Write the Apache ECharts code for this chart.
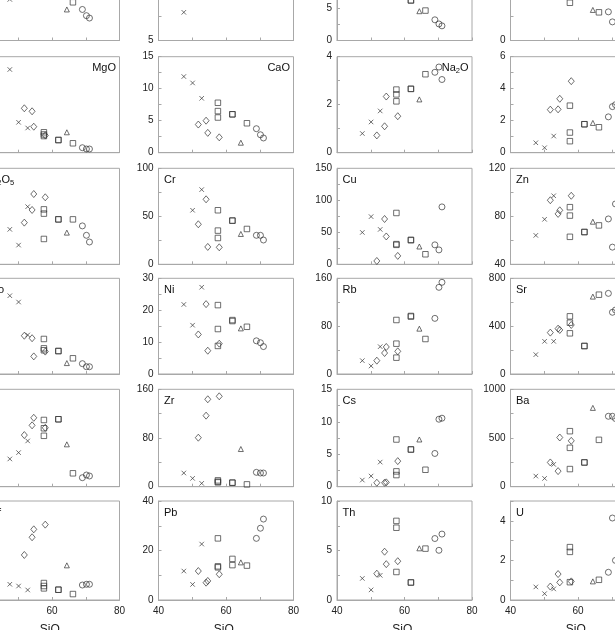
<!DOCTYPE html>
<html lang="en">
<head>
<meta charset="UTF-8">
<script src="https://cdn.jsdelivr.net/npm/echarts@6/dist/echarts.min.js"></script>
<style>
    html, body { margin: 0; padding: 0; width: 615px; height: 630px; overflow: hidden; background: #fff; }
    /* the figure is a crop of a bigger plate, so the chart runs past the window */
    #pic { position: absolute; left: -40px; top: -70px; width: 700px; height: 720px; }
</style>
<title>Harker</title>
</head>
<body>
<div id="pic"></div>
<script type="text/javascript">
    // one entry per sample: SiO2 and rock group (x cross, d diamond, s square, t triangle, o circle)
    var sio2 = [47.5, 50.1, 52.8, 51.8, 54.1, 54.6, 58.0, 57.6, 57.6, 57.6, 61.9, 61.9, 66.2, 64.4, 69.0, 70.2, 71.1];
    var rock = ['x', 'x', 'x', 'd', 'd', 'd', 'd', 's', 's', 's', 's', 's', 's', 't', 'o', 'o', 'o'];

    // element values, same sample order (null = not visible)
    var TiO2  = [0.86, null, null, null, null, null, null, null, null, null, null, null, 0.80, 0.65, 0.65, 0.52, 0.47];
    var Al2O3 = [10.9, null, null, null, null, null, null, null, null, null, null, null, null, null, null, null, null];
    var Fe2O3 = [null, null, null, null, null, null, null, null, null, null, 6.3, 6.3, 4.7, 4.6, 3.25, 2.6, 2.3];
    var MnO   = [null, null, null, null, null, null, null, 7.9, null, null, null, null, 5.9, 6.4, 6.0, 3.9, null];
    var MgO   = [13.0, 4.75, 3.86, 6.94, 6.47, 4.06, 2.7, 3.19, 2.85, 2.6, 1.98, 1.98, 1.47, 3.19, 0.78, 0.58, 0.58];
    var CaO   = [11.9, 10.9, 8.5, 4.4, 5.0, 3.1, 2.4, 7.8, 6.5, 5.5, 6.0, 6.0, 4.6, 1.56, 3.75, 2.8, 2.3];
    var Na2O  = [0.80, 1.28, 1.74, 0.72, 1.10, 2.34, 1.52, 2.63, 2.43, 2.14, 2.66, 2.66, 3.27, 2.22, 3.35, 3.57, 3.05];
    var K2O   = [0.62, 0.31, 1.04, 2.69, 2.71, 3.37, 4.47, 2.94, 1.26, 0.72, 1.78, 1.78, 1.59, 1.86, 2.24, 2.88, 3.0];
    var P2O5  = [0.182, 0.100, 0.300, 0.217, 0.283, 0.366, 0.349, 0.286, 0.264, 0.132, 0.234, 0.234, 0.234, 0.165, 0.200, 0.151, 0.116];
    var Cr    = [null, 56.3, 77.8, 41.7, 67.7, 18.1, 17.7, 56.3, 35.1, 27.4, 45.5, 45.5, 36.8, 31.6, 30.2, 30.2, 25.3];
    var Cu    = [49.8, 74.5, 54.5, 5.2, 70.8, 43.5, 13.1, 80.2, 31.5, 30.4, 38.3, 37.5, 15.7, 27.8, 30.4, 22.5, 89.7];
    var Zn    = [64.1, 77.5, 97.1, 93.4, 82.0, 85.0, 97.1, 87.6, 80.6, 62.9, 66.9, 66.9, 72.4, 75.5, 77.8, 54.3, 90.3];
    var Co    = [40.9, 37.6, 20.4, 20.0, 18.7, 9.2, 11.7, 18.3, 13.4, 12.4, 12.0, 12.0, 8.2, 5.7, 5.4, 3.8, 3.8];
    var Ni    = [21.8, 15.3, 27.2, 12.4, 21.9, 7.3, 9.5, 21.6, 14.1, 8.8, 16.6, 16.9, 14.8, 14.3, 10.4, 9.8, 8.6];
    var Rb    = [22.3, 13.4, 45.7, 22.3, 35.1, 45.2, 37.9, 90.3, 50.7, 27.3, 97, 96, 58.5, 75.8, 93, 144.9, 153.3];
    var Sr    = [162, 273, 273, 346, 379, 368, 410, 482, 429, 340, 234, 234, 663, 647, 674, 516, 535];
    var Y     = [11.4, 14.0, 18.8, 21.2, 25.2, 28.3, 24.2, 27.4, 24.0, 20.9, 27.7, 27.7, 5.5, 17.4, 3.7, 4.8, 4.4];
    var Zr    = [22.5, 13.7, 5.5, 80.5, 116.7, 143.6, 148.5, 10.4, 8.2, 7.1, 6.6, 6.6, 3.8, 61.9, 23.6, 22.5, 22.5];
    var Cs    = [1.02, 1.64, 3.79, 0.61, 0.61, 0.67, 3.94, 7.27, 2.36, 1.79, 5.73, 5.73, 2.61, 7.27, 5.12, 10.39, 10.55];
    var Ba    = [109, 85, 229, 249, 160, 505, 471, 570, 399, 181, 249, 249, 481, 809, 723, 723, 700];
    var Hf    = [1.27, 1.13, 0.81, 3.64, 5.07, 5.71, 6.09, 1.37, 1.13, 0.94, 0.83, 0.83, 0.48, 2.8, 1.21, 1.27, 1.27];
    var Pb    = [11.7, 6.3, 22.6, 11.7, 7.0, 7.7, 10.4, 24.9, 13.6, 13.2, 16.6, 14.1, 13.9, 15.2, 24.9, 29.0, 32.7];
    var Th    = [2.18, 1.02, 2.49, 2.66, 4.88, 3.62, 3.92, 7.99, 7.30, 2.83, 1.77, 1.77, 5.19, 5.22, 6.21, 5.02, 6.66];
    var U     = [0.66, 0.32, 0.56, 0.68, 1.31, 0.89, 0.94, 2.67, 2.43, 0.90, null, null, 1.02, 0.94, 1.40, 4.14, 2.0];

    // panels, row by row
    var panelName = ['{n|TiO}{s|2}', '{n|Al}{s|2}{n|O}{s|3}', '{n|Fe}{s|2}{n|O}{s|3}', '{n|MnO}',
                     '{n|MgO}', '{n|CaO}', '{n|Na}{s|2}{n|O}', '{n|K}{s|2}{n|O}',
                     '{n|P}{s|2}{n|O}{s|5}', '{n|Cr}', '{n|Cu}', '{n|Zn}',
                     '{n|Co}', '{n|Ni}', '{n|Rb}', '{n|Sr}',
                     '{n|Y}', '{n|Zr}', '{n|Cs}', '{n|Ba}',
                     '{n|Hf}', '{n|Pb}', '{n|Th}', '{n|U}'];
    var panelData = [TiO2, Al2O3, Fe2O3, MnO, MgO, CaO, Na2O, K2O, P2O5, Cr, Cu, Zn,
                     Co, Ni, Rb, Sr, Y, Zr, Cs, Ba, Hf, Pb, Th, U];
    var yMin  = [0, 5, 0, 0,   0, 0, 0, 0,   0, 0, 0, 40,   0, 0, 0, 0,   0, 0, 0, 0,   0, 0, 0, 0];
    var yMax  = [2, 25, 15, 20,   15, 15, 4, 6,   0.5, 100, 150, 120,   50, 30, 160, 800,   40, 160, 15, 1000,   8, 40, 10, 5];
    var yTick = [0.5, 5, 2.5, 5,   2.5, 2.5, 1, 1,   0.125, 25, 25, 20,   12.5, 5, 40, 200,   10, 40, 2.5, 250,   2, 10, 2.5, 1];
    var yLabelEvery = [2, 2, 2, 2,   2, 2, 2, 2,   2, 2, 2, 2,   2, 2, 2, 2,   2, 2, 2, 2,   2, 2, 2, 2];
    var xTicks = [40, 80, 10];

    var colLeft = [-15.5, 158.5, 337, 510.5];
    var colW = 135;
    var rowTop = [-55, 56.7, 168.3, 278.3, 389.3, 501];
    var rowBottom = [40.5, 152.7, 264.3, 374, 486.7, 600];
    var offX = 40, offY = 70;

    var font = '"Liberation Sans", Arial, Helvetica, sans-serif';
    var frame = '#a8a8a8';
    var ink = '#363636';

    var symbols = {
        x: { symbol: 'path://M0,0L10,10M10,0L0,10', size: 4.5 },
        d: { symbol: 'diamond', size: [6, 7] },
        s: { symbol: 'rect', size: 5.5 },
        t: { symbol: 'triangle', size: 5 },
        o: { symbol: 'circle', size: 6 }
    };

    function drawPic() {
        var myChart = echarts.init(document.getElementById('pic'));
        var grids = [], xAxes = [], yAxes = [], series = [], texts = [];

        for (var i = 0; i < panelData.length; i++) {
            var r = Math.floor(i / 4), c = i % 4;
            var left = colLeft[c] + offX, top = rowTop[r] + offY;
            var h = rowBottom[r] - rowTop[r];
            grids.push({
                left: left, top: top, width: colW, height: h,
                show: true, borderColor: frame, borderWidth: 1, outerBoundsMode: 'none'
            });
            xAxes.push({
                gridIndex: i, type: 'value', min: xTicks[0], max: xTicks[1], interval: xTicks[2],
                axisLine: { onZero: false, lineStyle: { color: frame } },
                axisTick: { inside: true, length: 3, lineStyle: { color: frame } },
                splitLine: { show: false },
                axisLabel: {
                    show: r == 5, margin: 6, color: '#222', fontSize: 10, fontFamily: font,
                    formatter: function (v) { return v % 20 == 0 ? v : ''; }
                },
                name: r == 5 ? '{n|SiO}{s|2}' : '',
                nameLocation: 'middle', nameGap: 22,
                nameTextStyle: {
                    rich: {
                        n: { fontSize: 12, fontFamily: font, color: '#222', lineHeight: 15 },
                        s: { fontSize: 8, fontFamily: font, color: '#222', lineHeight: 8, verticalAlign: 'bottom' }
                    }
                }
            });
            (function (mn, step, every) {
                yAxes.push({
                    gridIndex: i, type: 'value', min: mn, max: yMax[i], interval: step,
                    axisLine: { lineStyle: { color: frame } },
                    axisTick: { inside: true, length: 3, lineStyle: { color: frame } },
                    splitLine: { show: false },
                    axisLabel: {
                        margin: 5, color: '#222', fontSize: 10, fontFamily: font,
                        formatter: function (v) {
                            var k = Math.round((v - mn) / step);
                            return k % every == 0 ? v : '';
                        }
                    }
                });
            })(yMin[i], yTick[i], yLabelEvery[i]);

            // one scatter series per rock group
            ['x', 'd', 's', 't', 'o'].forEach(function (g) {
                var pts = [];
                for (var k = 0; k < sio2.length; k++) {
                    if (rock[k] == g && panelData[i][k] != null) pts.push([sio2[k], panelData[i][k]]);
                }
                series.push({
                    type: 'scatter', xAxisIndex: i, yAxisIndex: i, data: pts,
                    symbol: symbols[g].symbol, symbolSize: symbols[g].size,
                    itemStyle: { color: 'rgba(0,0,0,0)', borderColor: ink, borderWidth: 0.9 },
                    silent: true, animation: false
                });
            });

            // element name: top right in the major-oxide row, top left below it
            var rightSide = r < 2;
            texts.push({
                type: 'text', silent: true,
                x: rightSide ? left + colW - 3.5 : left + 5.5,
                y: top + 11.5,
                style: {
                    text: panelName[i], align: rightSide ? 'right' : 'left', verticalAlign: 'middle',
                    rich: {
                        n: { fontSize: 11, fontFamily: font, fill: '#111', lineHeight: 14 },
                        s: { fontSize: 7.5, fontFamily: font, fill: '#111', lineHeight: 8, verticalAlign: 'bottom' }
                    }
                }
            });
        }

        var option = {
            backgroundColor: '#fff',
            animation: false,
            grid: grids,
            xAxis: xAxes,
            yAxis: yAxes,
            series: series,
            graphic: texts
        };
        option && myChart.setOption(option);
    }

    drawPic()
</script>
</body>
</html>
